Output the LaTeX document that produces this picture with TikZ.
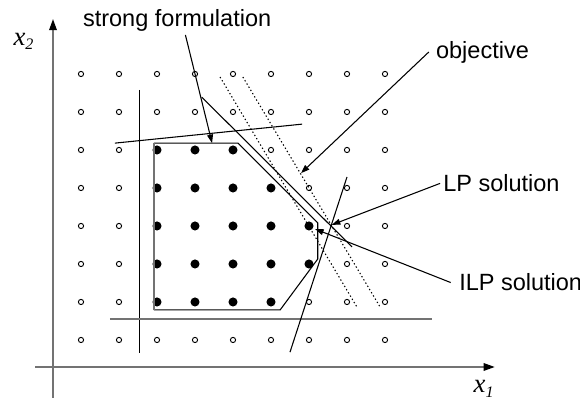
\documentclass[tikz,border=0pt]{standalone}
\usepackage{fontspec}
\setmainfont{Liberation Sans}
\newfontfamily\serifit{Liberation Serif}
\usetikzlibrary{arrows.meta}

\begin{document}
\begin{tikzpicture}[
    x=0.5cm, y=0.5cm,
    txt/.style={font=\fontsize{8.8}{10}\selectfont, inner sep=1pt, anchor=base west},
    axlab/.style={font=\fontsize{10}{12}\selectfont\serifit\itshape, inner sep=0pt, anchor=base west},
    pt/.style={circle, draw=black, line width=0.35pt, fill=white, inner sep=0pt, minimum size=1.95pt},
    ipt/.style={circle, fill=black, inner sep=0pt, minimum size=3.4pt},
    cut/.style={line width=0.4pt, black},
    gline/.style={line width=0.75pt, black!55},
    objline/.style={line width=0.4pt, dash pattern=on 0.5pt off 0.9pt},
    lead/.style={-{Triangle[length=3.2pt,width=2.2pt]}, line width=0.4pt},
    axis/.style={-{Triangle[length=4.2pt,width=2.8pt,color=black]}, line width=0.7pt, black!55},
]
    \useasboundingbox (-1.1316,-0.5526) rectangle (14.1316,9.947);

    % --- axes ---
    \draw[axis] (0.263,-0.526) -- (0.263,9.447);
    \draw[axis] (-0.21,0.289) -- (11.89,0.289);
    \node[axlab] (x2) at (-0.79,8.76) {x\raisebox{-0.4ex}{\fontsize{6}{6}\selectfont 2}};
    \node[axlab] (x1) at (11.32,-0.39) {x\raisebox{-0.4ex}{\fontsize{6}{6}\selectfont 1}};

    % --- lattice points ---
    \foreach \i in {1,...,9} {
        \foreach \j in {1,...,8} {
            \pgfmathtruncatemacro\inside{(\i>=3)&&(\j>=2)&&(\j<=6)&&(\i+\j<=11)&&(\i<=7)&&(\i<=\j+4)}
            \ifnum\inside=1
                \node[ipt] (p-\i-\j) at (\i,\j) {};
            \else
                \node[pt] (p-\i-\j) at (\i,\j) {};
            \fi
        }
    }

    % --- convex hull (strong formulation) ---
    \coordinate (h1) at (2.92,6.18);
    \coordinate (h2) at (5.13,6.18);
    \coordinate (h3) at (7.23,4.08);
    \coordinate (h4) at (7.23,3.13);
    \coordinate (h5) at (6.24,1.79);
    \coordinate (h6) at (2.92,1.79);
    \draw[cut] (h6) -- (h5) -- (h4) -- (h3) -- (h2) -- (h1);
    \draw[gline] (h1) -- (h6);

    % --- LP constraints ---
    \draw[cut] (1.89,6.18) -- (6.82,6.68);
    \draw[cut] (2.53,7.58) -- (2.53,0.66);
    \draw[gline] (1.76,1.55) -- (10.24,1.55);
    \draw[cut] (4.18,7.39) -- (8.13,3.45);
    \draw[cut] (8.0,5.29) -- (6.5,0.68);

    % --- objective ---
    \draw[objline] (4.66,7.92) -- (8.26,1.87);
    \draw[objline] (5.26,7.92) -- (8.87,1.87);

    % --- labels ---
    \node[txt] (strong) at (0.97,9.24) {strong formulation};
    \node[txt] (objtxt) at (10.26,8.42) {objective};
    \node[txt] (lptxt) at (10.45,4.9) {LP solution};
    \node[txt] (ilptxt) at (10.87,2.29) {ILP solution};

    \coordinate (strongpt) at (4.45,6.18);
    \coordinate (objpt) at (6.79,5.39);
    \coordinate (lpsol) at (7.6,4.03);
    \coordinate (ilpsol) at (7.16,3.92);

    \draw[lead] ([xshift=3.1pt]strong.south) -- (strongpt);
    \draw[lead] ([xshift=-1.5pt]objtxt.west) -- (objpt);
    \draw[lead] (lptxt.west) -- (lpsol);
    \draw[lead] ([xshift=-2pt]ilptxt.west) -- (ilpsol);

\end{tikzpicture}
\end{document}
